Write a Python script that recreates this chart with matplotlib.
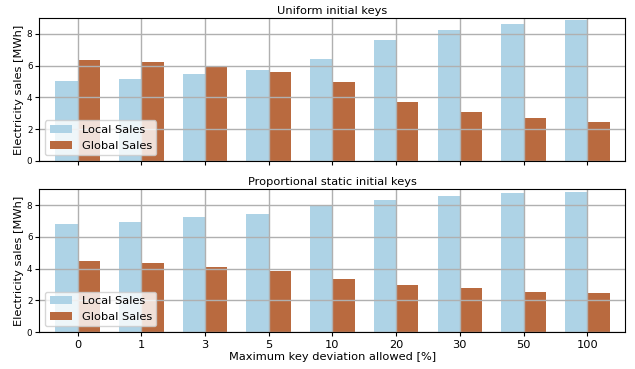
import matplotlib.pyplot as plt
import numpy as np

deviations = ['0', '1', '3', '5', '10', '20', '30', '50', '100']

uniform_local = [5.03, 5.19, 5.46, 5.71, 6.39, 7.62, 8.25, 8.63, 8.89]
uniform_global = [6.33, 6.20, 5.90, 5.63, 4.97, 3.72, 3.09, 2.71, 2.46]

proportional_local = [6.84, 6.96, 7.24, 7.45, 7.97, 8.36, 8.57, 8.80, 8.86]
proportional_global = [4.49, 4.36, 4.11, 3.87, 3.37, 2.96, 2.75, 2.52, 2.46]

LOCAL_COLOR = '#aed3e6'
GLOBAL_COLOR = '#b96a3f'
BAR_WIDTH = 0.35
FONT_SIZE = 8.2


def draw_panel(ax, title, local_values, global_values):
    x = np.arange(len(deviations))
    ax.bar(x - BAR_WIDTH / 2, local_values, BAR_WIDTH, color=LOCAL_COLOR, label='Local Sales')
    ax.bar(x + BAR_WIDTH / 2, global_values, BAR_WIDTH, color=GLOBAL_COLOR, label='Global Sales')
    ax.set_title(title, fontsize=FONT_SIZE, pad=3)
    ax.set_ylabel('Electricity sales [MWh]', fontsize=FONT_SIZE, labelpad=2)
    ax.set_ylim(0, 9)
    ax.set_yticks([0, 2, 4, 6, 8])
    ax.set_xlim(-0.6, 8.6)
    ax.set_xticks(x)
    ax.tick_params(axis='y', labelsize=6.3, length=3, pad=2)
    ax.tick_params(axis='x', labelsize=FONT_SIZE, length=3, pad=3)
    ax.grid(True, color='#b0b0b0', linewidth=1.0)
    ax.legend(loc='lower left', fontsize=FONT_SIZE)


fig, (ax_top, ax_bottom) = plt.subplots(2, 1, figsize=(6.35, 3.69), dpi=100, sharex=True)
fig.subplots_adjust(left=0.062, right=0.985, top=0.951, bottom=0.1, hspace=0.2)

draw_panel(ax_top, 'Uniform initial keys', uniform_local, uniform_global)
draw_panel(ax_bottom, 'Proportional static initial keys', proportional_local, proportional_global)

ax_bottom.set_xticklabels(deviations)
ax_bottom.set_xlabel('Maximum key deviation allowed [%]', fontsize=FONT_SIZE, labelpad=1)

fig.savefig('out.png', dpi=100)
